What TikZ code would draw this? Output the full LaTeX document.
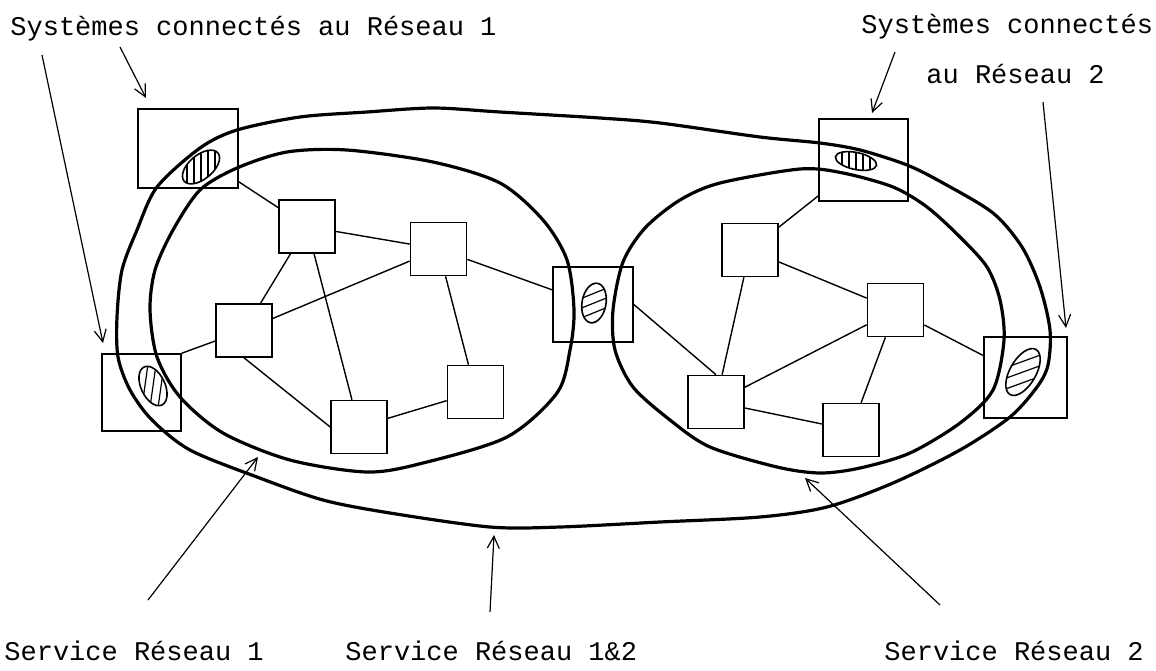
\documentclass[tikz,border=0pt]{standalone}
\usepackage{fontspec}
\setmonofont{Liberation Mono}
\usetikzlibrary{arrows.meta}

\tikzset{
  relay/.style={draw, line width=0.8pt, minimum width=28pt, minimum height=26.5pt, inner sep=0pt},
  sysbox/.style={draw, line width=0.8pt, inner sep=0pt},
  link/.style={line width=0.7pt},
  svc/.style={line width=1.6pt, line join=round},
  pointer/.style={line width=0.6pt, -{Straight Barb[length=6pt,width=6pt]}},
  caption/.style={font=\ttfamily\fontsize{13.5}{16}\selectfont, inner sep=0pt, anchor=base west},
}

% hatched blob: center, x radius, y radius, tilt, hatch angle, spacing
\newcommand{\hatchblob}[6]{%
  \begin{scope}
    \clip[rotate around={#4:#1}] #1 ellipse (#2 and #3);
    \foreach \k in {-6,...,6}
      \draw[line width=0.6pt, shift={#1}, rotate=#5] (\k*#6,-40) -- (\k*#6,40);
  \end{scope}
  \draw[line width=0.8pt, rotate around={#4:#1}] #1 ellipse (#2 and #3);
}

\begin{document}
\begin{tikzpicture}[x=0.5pt, y=-0.5pt]
    \useasboundingbox (0,0) rectangle (1156,670);

    % systems and gateway
    \node[sysbox, minimum width=50pt, minimum height=39.5pt] (sysA) at (188,148.5) {};
    \node[sysbox, minimum width=39.5pt, minimum height=38.5pt] (sysB) at (141.5,392.5) {};
    \node[sysbox, minimum width=44.5pt, minimum height=41pt] (sysC) at (863.5,160) {};
    \node[sysbox, minimum width=41.5pt, minimum height=40.5pt] (sysD) at (1025.5,377.5) {};
    \node[sysbox, minimum width=40pt, minimum height=37.5pt] (gate) at (593,304.5) {};

    % relays
    \node[relay] (rA) at (307,226.5) {};
    \node[relay] (rB) at (438.5,249) {};
    \node[relay] (rC) at (244,330.5) {};
    \node[relay] (rD) at (359,427) {};
    \node[relay] (rE) at (475.5,392) {};
    \node[relay] (rF) at (716,402) {};
    \node[relay] (rG) at (750,250) {};
    \node[relay] (rH) at (895.5,310) {};
    \node[relay] (rI) at (851,430) {};

    % links
    \draw[link] (sysA) -- (rA);
    \draw[link] (rA) -- (rB);
    \draw[link] (rA) -- (rC);
    \draw[link] (rA) -- (rD);
    \draw[link] (rB) -- (rC);
    \draw[link] (rB) -- (rE);
    \draw[link] (rB) -- (gate);
    \draw[link] (rC.south) -- (rD.west);
    \draw[link] (rD) -- (rE);
    \draw[link] (sysB.north east) -- (rC);
    \draw[link] (gate.east) -- (rF.north);
    \draw[link] (rF) -- (rG);
    \draw[link] (rF) -- (rH);
    \draw[link] (rF) -- (rI);
    \draw[link] (rH) -- (rI);
    \draw[link] (rH) -- (sysD);
    \draw[link] (rG) -- (rH);
    \draw[link] (sysC) -- (rG);

    % hatched access points
    \hatchblob{(201,167)}{22}{12}{40}{0}{7}
    \hatchblob{(153,386)}{12}{21}{25}{-8}{8}
    \hatchblob{(856,161)}{21}{8.5}{-12}{0}{7}
    \hatchblob{(594,303)}{12}{20}{-10}{-68}{9}
    \hatchblob{(1023,372)}{13}{26}{-30}{-70}{10}

    % service areas
    \draw[svc] plot[smooth cycle] coordinates {
        (117,317) (122,270) (137,230) (157,187) (200,148) (237,130) (300,117)
        (367,112) (433,108) (500,112) (600,118) (660,123) (760,137) (820,143)
        (860,150) (907,165) (943,183) (993,213) (1022,247) (1040,287) (1050,330)
        (1048,365) (1037,387) (1010,417) (960,450) (893,483) (827,507) (760,517)
        (660,522) (560,527) (490,527) (390,513) (323,500) (257,477) (190,450)
        (152,420) (130,390) (118,357)};
    \draw[svc] plot[smooth cycle] coordinates {
        (347,150) (433,162) (500,183) (543,220) (567,260) (574,310) (570,350)
        (557,393) (507,437) (423,463) (367,472) (290,460) (223,433) (180,397)
        (157,357) (150,310) (155,270) (173,230) (200,190) (237,168) (287,152)};
    \draw[svc] plot[smooth cycle] coordinates {
        (623,262) (645,228) (680,200) (720,183) (800,169) (843,173) (893,187)
        (927,207) (960,237) (987,267) (1000,300) (1004,340) (993,390) (960,423)
        (910,453) (860,468) (820,473) (777,467) (710,447) (670,420) (633,387)
        (615,350) (613,310)};

    % captions
    \node[caption] (sys1lbl) at (10,35) {Systèmes connectés au Réseau 1};
    \node[caption] (sys2lbl) at (861,33) {Systèmes connectés};
    \node[caption] (sys2lblb) at (926,83) {au Réseau 2};
    \node[caption] (svc1lbl) at (4,660) {Service Réseau 1};
    \node[caption] (svc12lbl) at (345,660) {Service Réseau 1\&2};
    \node[caption] (svc2lbl) at (884,660) {Service Réseau 2};

    % pointers
    \coordinate (fromB) at (42,55);    \coordinate (toB) at (103,343);
    \coordinate (fromA) at (120,47);   \coordinate (toA) at (146,98);
    \coordinate (fromC) at (895,52);   \coordinate (toC) at (872,113);
    \coordinate (fromD) at (1043,102); \coordinate (toD) at (1066,328);
    \coordinate (from1) at (148,600);  \coordinate (to1) at (258,457);
    \coordinate (from12) at (490,612); \coordinate (to12) at (494,535);
    \coordinate (from2) at (940,605);  \coordinate (to2) at (805,478);
    \draw[pointer] (fromA) -- (toA);
    \draw[pointer] (fromB) -- (toB);
    \draw[pointer] (fromC) -- (toC);
    \draw[pointer] (fromD) -- (toD);
    \draw[pointer] (from1) -- (to1);
    \draw[pointer] (from12) -- (to12);
    \draw[pointer] (from2) -- (to2);
\end{tikzpicture}
\end{document}
